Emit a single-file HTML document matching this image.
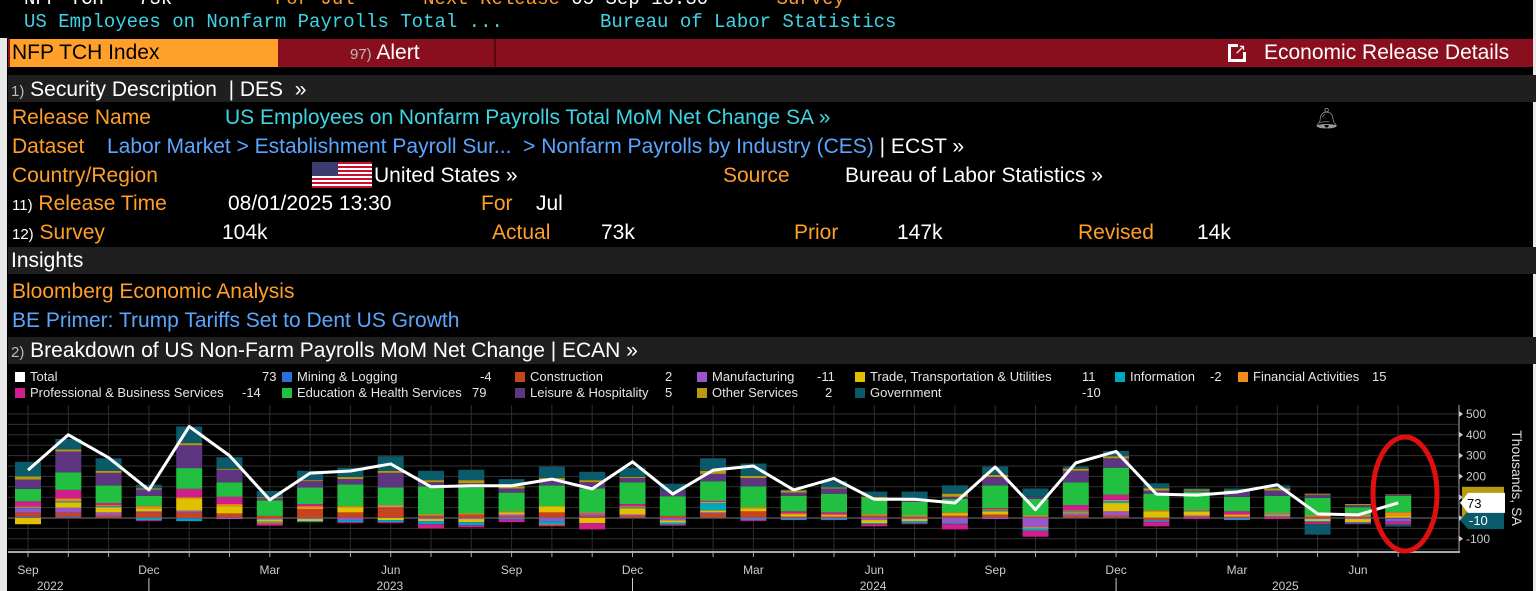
<!DOCTYPE html>
<html><head><meta charset="utf-8">
<style>
*{margin:0;padding:0;box-sizing:border-box}
body{width:1536px;height:591px;background:#000;overflow:hidden;position:relative;font-family:"Liberation Sans",sans-serif;color:#fff}
.abs{position:absolute;white-space:nowrap}
.mono{font-family:"Liberation Mono",monospace;font-size:19px}
.t{font-size:21px;line-height:27px}
.or{color:#ff9e28}.cy{color:#3fd4e4}.bl{color:#5aa6ff}.wh{color:#fff}
.hdr{position:absolute;left:8px;right:0;height:27px;background:#1f1f1f}
.leg{position:absolute;font-size:13px;color:#e6e6e6;white-space:nowrap}
.sw{display:inline-block;width:10px;height:10px;margin-right:5px;vertical-align:-1px}
</style></head><body>
<div class="abs" style="left:0;top:38px;width:7px;height:553px;background:#e8e8e8"></div>
<div class="abs" style="left:1533px;top:0;width:3px;height:591px;background:#e8e8e8"></div>

<div class="abs mono" style="left:24px;top:-12px"><span class="wh">NFP TCH &nbsp;&nbsp;73k</span><span class="or">&nbsp;&nbsp;&nbsp;&nbsp;&nbsp;&nbsp;&nbsp;&nbsp;&nbsp;For Jul&nbsp;&nbsp;&nbsp;&nbsp;&nbsp;&nbsp;Next Release</span><span class="wh"> 05 Sep 13:30</span><span class="or">&nbsp;&nbsp;&nbsp;&nbsp;&nbsp;&nbsp;Survey</span></div>
<div class="abs mono cy" style="left:24px;top:11px">US Employees on Nonfarm Payrolls Total ...</div>
<div class="abs mono cy" style="left:600px;top:11px">Bureau of Labor Statistics</div>

<div class="abs" style="left:8px;top:39px;width:1525px;height:28px;background:#8a0f1e"></div>
<div class="abs" style="left:10px;top:39px;width:268px;height:28px;background:#ffa02a;color:#000;font-size:21px;line-height:28px;padding-left:2px">NFP TCH Index</div>
<div class="abs" style="left:494px;top:39px;width:2px;height:28px;background:#5a0610"></div>
<div class="abs t" style="left:350px;top:39px;line-height:28px"><span style="color:#bbb;font-size:15px">97)</span> Alert</div>
<div class="abs t" style="left:1228px;top:39px;line-height:28px"><span style="display:inline-block;width:18px;height:18px;border:3px solid #fff;vertical-align:-3px;margin-right:18px;position:relative"><span style="position:absolute;right:-4px;top:-4px;width:9px;height:9px;background:#8a0f1e"></span><span style="position:absolute;right:-3px;top:-4px;font-size:14px;line-height:12px">↗</span></span>Economic Release Details</div>

<div class="hdr" style="top:75px"><span class="t" style="position:absolute;left:3px;top:1px"><span style="color:#bbb;font-size:15px">1)</span> Security Description &nbsp;| DES &nbsp;»</span></div>

<div class="abs t or" style="left:12px;top:104px">Release Name</div>
<div class="abs t cy" style="left:225px;top:104px">US Employees on Nonfarm Payrolls Total MoM Net Change SA »</div>
<div class="abs" style="left:1314px;top:106px;color:#999;font-size:20px">🔔︎</div>

<div class="abs t or" style="left:12px;top:133px">Dataset</div>
<div class="abs t" style="left:107px;top:133px"><span class="bl">Labor Market &gt; Establishment Payroll Sur... &nbsp;&gt; Nonfarm Payrolls by Industry (CES)</span> | ECST »</div>

<div class="abs t or" style="left:12px;top:162px">Country/Region</div>
<div class="abs" style="left:312px;top:162px;width:60px;height:26px;background:repeating-linear-gradient(#c8102e 0 2px,#fff 2px 4px)"><div style="width:26px;height:14px;background:#3c3b6e"></div></div>
<div class="abs t" style="left:374px;top:162px">United States »</div>
<div class="abs t or" style="left:723px;top:162px">Source</div>
<div class="abs t" style="left:845px;top:162px">Bureau of Labor Statistics »</div>

<div class="abs t or" style="left:12px;top:190px"><span style="color:#fff;font-size:15px">11)</span> Release Time</div>
<div class="abs t" style="left:228px;top:190px">08/01/2025 13:30</div>
<div class="abs t or" style="left:481px;top:190px">For</div>
<div class="abs t" style="left:536px;top:190px">Jul</div>

<div class="abs t or" style="left:12px;top:219px"><span style="color:#fff;font-size:15px">12)</span> Survey</div>
<div class="abs t" style="left:222px;top:219px">104k</div>
<div class="abs t or" style="left:492px;top:219px">Actual</div>
<div class="abs t" style="left:601px;top:219px">73k</div>
<div class="abs t or" style="left:794px;top:219px">Prior</div>
<div class="abs t" style="left:897px;top:219px">147k</div>
<div class="abs t or" style="left:1078px;top:219px">Revised</div>
<div class="abs t" style="left:1197px;top:219px">14k</div>

<div class="hdr" style="top:247px"><span class="t" style="position:absolute;left:3px;top:0">Insights</span></div>
<div class="abs t or" style="left:12px;top:278px">Bloomberg Economic Analysis</div>
<div class="abs t bl" style="left:12px;top:307px">BE Primer: Trump Tariffs Set to Dent US Growth</div>

<div class="hdr" style="top:337px"><span class="t" style="position:absolute;left:3px;top:0"><span style="color:#bbb;font-size:15px">2)</span> Breakdown of US Non-Farm Payrolls MoM Net Change | ECAN »</span></div>

<div id="legend"></div>

<svg id="chart" class="abs" style="left:0;top:400px" width="1536" height="191"></svg>

<script>
const months=["Sep","Oct","Nov","Dec","Jan","Feb","Mar","Apr","May","Jun","Jul","Aug","Sep","Oct","Nov","Dec","Jan","Feb","Mar","Apr","May","Jun","Jul","Aug","Sep","Oct","Nov","Dec","Jan","Feb","Mar","Apr","May","Jun","Jul"];
const yearLabels=["2022","2023","2024","2025"];
const yTicks=[500,400,300,200,100,0,-100];
const total=[230,400,290,135,440,300,87,216,226,260,150,155,155,187,140,270,115,230,250,135,190,90,90,72,245,40,265,320,115,110,125,160,20,15,73];
const mining=[5,5,2,2,-5,2,-2,2,2,2,2,2,2,2,2,2,-2,2,2,2,2,2,2,2,2,2,2,2,2,2,2,2,2,2,-4];
const construction=[20,20,10,25,25,20,10,40,25,45,10,15,5,25,10,10,10,20,30,5,5,10,5,10,15,5,10,10,-10,5,5,5,5,5,2];
const manufacturing=[20,25,15,5,10,-5,-5,-5,-10,5,-5,-5,10,-15,10,5,-10,5,-5,-5,-5,-10,-5,-25,-5,-45,10,20,-5,5,-5,5,-5,-5,-11];
const trade=[-30,25,25,15,60,35,-10,-10,25,-10,-10,-15,10,30,-25,30,-10,10,15,10,5,-15,-10,10,15,-5,5,40,30,20,5,5,-10,-15,11];
const information=[5,5,5,-10,-10,0,-5,-5,-10,-10,-15,-15,-5,-15,0,5,-10,35,-5,-5,-5,-5,-10,-5,5,-10,5,10,-5,5,-5,5,-5,-5,-2];
const financial=[5,15,5,10,5,10,-5,15,5,10,5,5,5,-5,5,5,0,5,5,5,5,5,5,5,5,5,5,5,5,5,5,5,5,5,15];
const professional=[25,40,10,-5,40,35,-10,10,-5,-5,-20,-10,-15,-5,-30,10,-5,5,-5,10,10,-10,-5,-25,5,-30,25,25,-20,-5,15,-5,-10,-5,-14];
const health=[60,85,85,50,100,70,75,80,105,85,135,125,90,100,115,105,95,95,100,75,90,80,65,65,110,80,110,130,80,85,70,80,85,40,79];
const leisure=[45,100,60,30,110,60,10,30,25,70,20,20,20,25,30,20,25,35,40,15,25,0,5,10,40,10,55,45,15,5,25,25,15,10,5];
const other=[15,10,10,5,10,5,5,5,10,10,10,15,10,10,10,5,0,15,10,10,5,5,5,15,10,0,10,10,10,5,5,10,5,5,2];
const government=[70,50,60,18,80,55,30,45,45,70,45,50,35,55,40,45,35,60,60,5,30,25,40,40,40,40,10,25,25,5,10,15,-50,0,-10];

const series=[
 ["Mining & Logging",mining,"#2a6ed8"],["Construction",construction,"#c8441c"],["Manufacturing",manufacturing,"#9a55c8"],
 ["Trade, Transportation & Utilities",trade,"#e0c000"],["Information",information,"#00a7c0"],["Financial Activities",financial,"#f08c1e"],
 ["Professional & Business Services",professional,"#d01e8c"],["Education & Health Services",health,"#22c040"],
 ["Leisure & Hospitality",leisure,"#5e3580"],["Other Services",other,"#b89a10"],["Government",government,"#0a5a6a"]];

// legend
const legItems=[["Total","#fff",73,15,378,262],["Mining & Logging","#2a6ed8",-4,282,378,480],["Construction","#c8441c",2,515,378,665],["Manufacturing","#9a55c8",-11,697,378,817],["Trade, Transportation & Utilities","#e0c000",11,855,378,1082],["Information","#00a7c0",-2,1115,378,1210],["Financial Activities","#f08c1e",15,1238,378,1372],
 ["Professional & Business Services","#d01e8c",-14,15,394,242],["Education & Health Services","#22c040",79,282,394,472],["Leisure & Hospitality","#5e3580",5,515,394,665],["Other Services","#b89a10",2,697,394,825],["Government","#0a5a6a",-10,855,394,1082]];
const L=document.getElementById('legend');
legItems.forEach(it=>{
 const d=document.createElement('div');d.className='leg';d.style.left=it[3]+'px';d.style.top=(it[4]-9)+'px';
 d.innerHTML='<span class="sw" style="background:'+it[1]+'"></span>'+it[0];
 
 
 L.appendChild(d);
 const v=document.createElement('div');v.className='leg';v.style.left=it[5]+'px';v.style.top=(it[4]-9)+'px';v.textContent=it[2];
 
 
 L.appendChild(v);
});

// chart
const S=document.getElementById('chart'),NS='http://www.w3.org/2000/svg';
const OY=400;
function y(v){return 518-OY-v*0.208;}
function x(i){return 28+i*40.3;}
function el(t,a,p){const e=document.createElementNS(NS,t);for(const k in a)e.setAttribute(k,a[k]);(p||S).appendChild(e);return e;}
// grid
for(let v=-150;v<=500;v+=50){const g=el('line',{x1:8,x2:1458,y1:y(v),y2:y(v),stroke:v===0?'#777':'#333','stroke-width':1});}
months.forEach((m,i)=>{const g=el('line',{x1:x(i),x2:x(i),y1:5,y2:152,stroke:'#2e2e2e'});});
const ax=el('line',{x1:8,x2:1460,y1:152,y2:152,stroke:'#aaa','stroke-width':2});
const ay=el('line',{x1:1459,x2:1459,y1:5,y2:152,stroke:'#aaa'});
// bars
months.forEach((m,i)=>{
 let pos=0,neg=0;
 series.forEach(s=>{const v=s[1][i];if(!v)return;
  let y0,h;
  if(v>0){y0=y(pos+v);h=v*0.208;pos+=v;}else{y0=y(neg);h=-v*0.208;neg+=v;}
  const r=el('rect',{x:x(i)-13,y:y0,width:26,height:h,fill:s[2]});
  
  
 });
});
// total line
const pl=el('polyline',{points:total.map((v,i)=>x(i)+','+y(v)).join(' '),fill:'none',stroke:'#fff','stroke-width':3,'stroke-linejoin':'round'});


// x labels
months.forEach((m,i)=>{
 const t=el('line',{x1:x(i),x2:x(i),y1:152,y2:157,stroke:'#aaa'});
 if(i%3===0){const l=el('text',{x:x(i),y:174,fill:'#ccc','font-size':12,'text-anchor':'middle','font-family':'Liberation Sans'});l.textContent=m;
 }
});
const yearPos=[0.55,8.98,20.97,31.2];
yearLabels.forEach((yl,k)=>{const l=el('text',{x:x(yearPos[k]),y:190,fill:'#ccc','font-size':12,'text-anchor':'middle','font-family':'Liberation Sans'});l.textContent=yl;
 });
[3,15,27].forEach(p=>{const s=el('line',{x1:x(p),x2:x(p),y1:178,y2:191,stroke:'#ccc'});});
// y ticks
yTicks.forEach(v=>{
 el('path',{d:'M1459 '+(y(v)-3)+' l4 3 l-4 3z',fill:'#ccc'});
 const l=el('text',{x:1466,y:y(v)+4,fill:'#ccc','font-size':12,'font-family':'Liberation Sans'});l.textContent=v===0?'':v;
 
});
const yt=el('text',{x:1512,y:78,fill:'#ddd','font-size':14,'text-anchor':'middle','font-family':'Liberation Sans',transform:'rotate(90 1512 78)'});yt.textContent='Thousands, SA';

// value markers
el('rect',{x:1462,y:y(150),width:42,height:y(-10)-y(150),fill:'#b89a10'});
const m2=el('path',{d:'M1460 '+y(-10)+' l8 -9 h36 v18 h-36z',fill:'#0a5a6a'});
const t2=el('text',{x:1469,y:y(-10)+5,fill:'#fff','font-size':13,'font-family':'Liberation Sans'});t2.textContent='-10';
const m1=el('path',{d:'M1460 '+y(73)+' l8 -10 h37 v20 h-37z',fill:'#fff'});
const t1=el('text',{x:1467,y:y(73)+5,fill:'#000','font-size':13,'font-family':'Liberation Sans'});t1.textContent='73';
// red circle annotation
const c=el('ellipse',{cx:1405,cy:94,rx:32,ry:57,fill:'none',stroke:'#e01010','stroke-width':5});

</script>
</body></html>
